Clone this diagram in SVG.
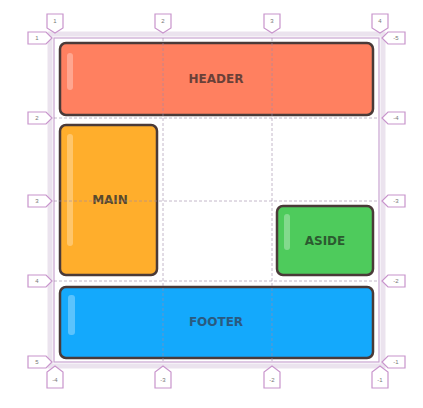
<svg xmlns="http://www.w3.org/2000/svg" width="423" height="408" viewBox="0 0 423 408">
<style>
.tag{fill:#fff;stroke:#c894cc;stroke-width:1.2}
.tt{font-family:"Liberation Sans",Arial,sans-serif;font-size:6px;fill:#777;text-anchor:middle;dominant-baseline:central}
.dash{stroke:#9c8aa8;stroke-width:1;stroke-dasharray:3 2;fill:none;opacity:0.6}
.box{stroke:#4a3a38;stroke-width:2.5}
.lbl{font-family:"DejaVu Sans",sans-serif;font-weight:bold;font-size:12px;text-anchor:middle;dominant-baseline:central}
.hl{fill:#fff;opacity:0.3}
</style>
<rect width="423" height="408" fill="#fff"/>
<g id="container">
<rect x="50" y="34" width="333" height="332" fill="none" stroke="#ebe3ee" stroke-width="5"/>
<rect x="54" y="38" width="325" height="324" fill="none" stroke="#c9a3d0" stroke-width="1.2"/>
</g>
<g id="header">
<rect class="box" x="60" y="43" width="313" height="72" rx="6" fill="#ff8060"/>
<rect class="hl" x="67" y="53" width="6" height="37" rx="3"/>
<text class="lbl" x="216" y="79" fill="#6a4038">HEADER</text>
</g>
<g id="main">
<rect class="box" x="60" y="125" width="97" height="150" rx="6" fill="#ffae2c"/>
<rect class="hl" x="67" y="134" width="6" height="112" rx="3"/>
<text class="lbl" x="110" y="200" fill="#5a4a2c">MAIN</text>
</g>
<g id="aside">
<rect class="box" x="277" y="206" width="96" height="69" rx="6" fill="#4ecb5c"/>
<rect class="hl" x="284" y="214" width="6" height="36" rx="3"/>
<text class="lbl" x="325" y="241" fill="#2c5a30">ASIDE</text>
</g>
<g id="footer">
<rect class="box" x="60" y="287" width="313" height="71" rx="6" fill="#14a9fc"/>
<rect class="hl" x="68" y="295" width="7" height="40" rx="3"/>
<text class="lbl" x="216" y="322" fill="#2a5a80">FOOTER</text>
</g>
<g id="connectors">
<line class="dash" x1="163" y1="38" x2="163" y2="362"/>
<line class="dash" x1="272" y1="38" x2="272" y2="362"/>
<line class="dash" x1="54" y1="118" x2="379" y2="118"/>
<line class="dash" x1="54" y1="201" x2="379" y2="201"/>
<line class="dash" x1="54" y1="281" x2="379" y2="281"/>
</g>
<g id="top-tags">
<path class="tag" d="M47,14H63V28L55,33L47,28Z"/><text class="tt" x="55" y="21">1</text>
<path class="tag" d="M155,14H171V28L163,33L155,28Z"/><text class="tt" x="163" y="21">2</text>
<path class="tag" d="M264,14H280V28L272,33L264,28Z"/><text class="tt" x="272" y="21">3</text>
<path class="tag" d="M372,14H388V28L380,33L372,28Z"/><text class="tt" x="380" y="21">4</text>
</g>
<g id="left-tags">
<path class="tag" d="M28,32H46L52,38L46,44H28Z"/><text class="tt" x="37" y="38">1</text>
<path class="tag" d="M28,112H46L52,118L46,124H28Z"/><text class="tt" x="37" y="118">2</text>
<path class="tag" d="M28,195H46L52,201L46,207H28Z"/><text class="tt" x="37" y="201">3</text>
<path class="tag" d="M28,275H46L52,281L46,287H28Z"/><text class="tt" x="37" y="281">4</text>
<path class="tag" d="M28,356H46L52,362L46,368H28Z"/><text class="tt" x="37" y="362">5</text>
</g>
<g id="right-tags">
<path class="tag" d="M405,32H388L382,38L388,44H405Z"/><text class="tt" x="396" y="38">-5</text>
<path class="tag" d="M405,112H388L382,118L388,124H405Z"/><text class="tt" x="396" y="118">-4</text>
<path class="tag" d="M405,195H388L382,201L388,207H405Z"/><text class="tt" x="396" y="201">-3</text>
<path class="tag" d="M405,275H388L382,281L388,287H405Z"/><text class="tt" x="396" y="281">-2</text>
<path class="tag" d="M405,356H388L382,362L388,368H405Z"/><text class="tt" x="396" y="362">-1</text>
</g>
<g id="bottom-tags">
<path class="tag" d="M47,388H63V372L55,366L47,372Z"/><text class="tt" x="55" y="380">-4</text>
<path class="tag" d="M155,388H171V372L163,366L155,372Z"/><text class="tt" x="163" y="380">-3</text>
<path class="tag" d="M264,388H280V372L272,366L264,372Z"/><text class="tt" x="272" y="380">-2</text>
<path class="tag" d="M372,388H388V372L380,366L372,372Z"/><text class="tt" x="380" y="380">-1</text>
</g>
</svg>
